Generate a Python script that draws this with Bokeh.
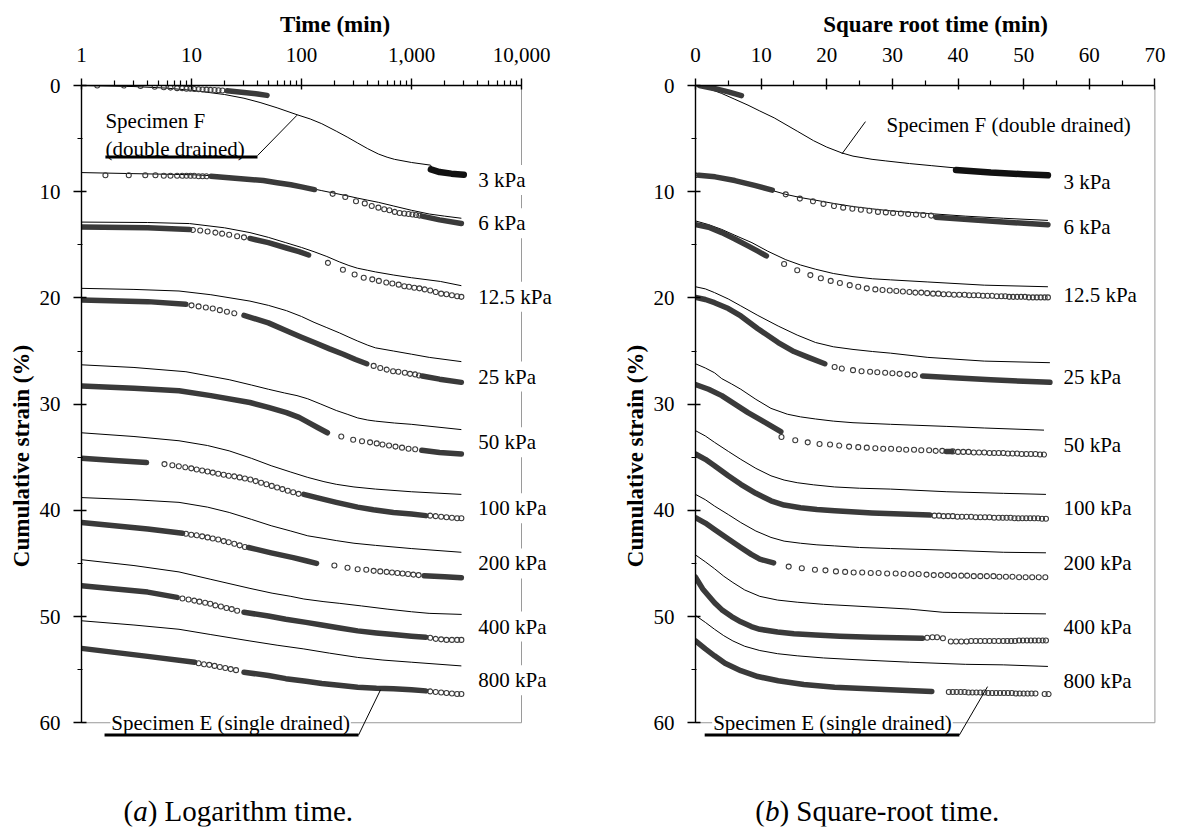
from bokeh.plotting import figure
from bokeh.layouts import row
from bokeh.models import Range1d, FixedTicker, NumeralTickFormatter, Label
from bokeh.embed import file_html
from bokeh.resources import INLINE

SERIF = "Liberation Serif"
MARK = "#3a3a3a"
BORDER = "#9a9a9a"

LOAD_LABELS = ["3 kPa", "6 kPa", "12.5 kPa", "25 kPa", "50 kPa", "100 kPa", "200 kPa", "400 kPa", "800 kPa"]
LABEL_Y_A = [8.9, 12.97, 19.9, 27.4, 33.6, 39.8, 45.0, 50.95, 56.0]
LABEL_Y_B = [9.06, 13.3, 19.7, 27.4, 33.85, 39.8, 45.0, 50.95, 56.1]

A_TICKS = [1, 10, 100, 1000, 10000]
A_MINOR = [m * 10 ** k for k in range(4) for m in range(2, 10)]
B_TICKS = [0, 10, 20, 30, 40, 50, 60, 70]
B_MINOR = [5, 15, 25, 35, 45, 55, 65]
Y_TICKS = [0, 10, 20, 30, 40, 50, 60]
Y_MINOR = [5, 15, 25, 35, 45, 55]

# ---------------- panel (a): time (min) vs cumulative strain (%) ----------------
a_f_3 = [(1, 0.0), (3, 0.1), (6, 0.25), (10, 0.45), (20, 0.85), (30, 1.2), (42, 1.6), (60, 2.1), (91, 2.75),
         (120, 3.15), (153, 3.6), (207, 4.3), (260, 4.85), (322, 5.4), (400, 5.95), (500, 6.45), (600, 6.75),
         (700, 6.95), (1000, 7.25), (1490, 7.5), (1550, 7.8)]
a_band_3 = [[(21, 0.5), (30, 0.65), (40, 0.8), (48.6, 0.93)]]
a_blk_3 = [(1500, 7.9), (1800, 8.15), (2300, 8.3), (2990, 8.4)]
a_circ_3 = [(1.39, 0.0), (2.43, 0.0), (3.44, 0.05), (4.63, 0.12), (5.6, 0.17), (6.44, 0.2), (7.4, 0.25),
            (8.24, 0.25), (9.0, 0.3), (9.78, 0.3), (10.6, 0.33), (11.6, 0.35), (12.6, 0.37), (13.7, 0.39),
            (14.9, 0.41), (16.2, 0.43), (17.6, 0.45), (19.1, 0.47)]

a_f_6 = [(1, 8.2), (3, 8.3), (10, 8.4), (20, 8.55), (30, 8.7), (60, 9.1), (100, 9.5), (153, 9.9), (250, 10.35),
         (322, 10.6), (400, 10.8), (500, 11.0), (690, 11.35), (1000, 11.75), (1450, 12.1), (2000, 12.3),
         (2840, 12.5)]
a_band_6 = [[(15, 8.55), (30, 8.8), (45, 8.95), (60, 9.15), (80, 9.35), (100, 9.55), (131, 9.8)],
            [(1250, 12.3), (1800, 12.65), (2840, 13.0)]]
a_circ_6 = [(1.65, 8.45), (2.69, 8.45), (3.8, 8.45), (4.7, 8.45), (5.6, 8.5), (6.44, 8.5), (7.4, 8.5),
            (8.24, 8.5), (9.0, 8.5), (9.78, 8.5), (10.6, 8.5), (11.6, 8.55), (12.6, 8.55), (13.7, 8.55),
            (192, 10.2), (250, 10.5), (313, 10.9), (376, 11.1), (435, 11.35), (500, 11.5), (565, 11.65),
            (630, 11.75), (705, 11.9), (780, 12.0), (860, 12.05), (940, 12.1), (1020, 12.15), (1100, 12.2),
            (1180, 12.25)]

a_f_12 = [(1, 12.86), (4, 12.9), (9.6, 13.0), (20, 13.4), (34, 13.85), (50, 14.3), (72, 14.8), (100, 15.25),
          (130, 15.65), (170, 16.1), (220, 16.6), (270, 16.95), (322, 17.2), (400, 17.4), (470, 17.55),
          (690, 17.85), (1000, 18.1), (1830, 18.45), (2840, 18.85)]
a_band_12 = [[(1, 13.33), (4, 13.4), (9.6, 13.55)],
             [(34, 14.4), (50, 14.8), (73, 15.3), (95, 15.65), (116, 15.96)]]
a_circ_12 = [(10.3, 13.6), (12, 13.65), (14, 13.75), (16.5, 13.85), (19, 13.95), (22, 14.05), (26, 14.2),
             (30, 14.3), (174, 16.7), (238, 17.35), (304, 17.8), (368, 18.1), (440, 18.25), (505, 18.4),
             (590, 18.55), (670, 18.65), (765, 18.75), (860, 18.9), (950, 18.95), (1060, 19.05),
             (1180, 19.1), (1320, 19.2), (1480, 19.3), (1660, 19.45), (1860, 19.6), (2080, 19.65),
             (2330, 19.75), (2600, 19.85), (2840, 19.9)]

a_f_25 = [(1, 19.1), (3, 19.2), (7.7, 19.35), (15, 19.7), (34, 20.3), (50, 20.7), (73, 21.2), (100, 21.75),
          (130, 22.3), (170, 22.8), (222, 23.3), (270, 23.7), (322, 24.05), (400, 24.45), (470, 24.7),
          (685, 25.0), (1000, 25.3), (1450, 25.6), (2840, 26.0)]
a_band_25 = [[(1, 20.2), (4, 20.35), (8.9, 20.6)],
             [(30, 21.65), (50, 22.35), (73, 23.1), (100, 23.7), (131, 24.2), (180, 24.8), (240, 25.3),
              (310, 25.8), (392, 26.2)],
             [(1250, 27.35), (1800, 27.65), (2840, 27.95)]]
a_circ_25 = [(10, 20.7), (11.6, 20.8), (13.5, 20.9), (15.6, 21.0), (18.1, 21.15), (21, 21.3), (24.5, 21.45),
             (453, 26.4), (520, 26.6), (595, 26.75), (680, 26.9), (760, 26.95), (870, 27.05), (970, 27.15),
             (1080, 27.2), (1170, 27.3)]

a_f_50 = [(1, 26.3), (3, 26.55), (8.9, 26.95), (22, 27.7), (35, 28.2), (50, 28.6), (70, 28.95), (91, 29.2),
          (114, 29.5), (150, 30.0), (207, 30.6), (260, 30.95), (324, 31.3), (400, 31.5), (470, 31.6),
          (700, 31.78), (995, 31.9), (2840, 32.4)]
a_band_50 = [[(1, 28.3), (3, 28.5), (7.7, 28.75), (15, 29.2), (34, 29.85), (50, 30.3), (73, 30.8),
              (95, 31.25), (114, 31.7), (140, 32.2), (172, 32.7)],
             [(1240, 34.35), (1800, 34.55), (2840, 34.7)]]
a_circ_50 = [(230, 33.05), (295, 33.35), (355, 33.5), (420, 33.6), (483, 33.7), (545, 33.8), (625, 33.9),
             (715, 34.0), (820, 34.1), (940, 34.2), (1080, 34.25)]

a_f_100 = [(1, 32.7), (3, 33.05), (7.7, 33.45), (14, 33.9), (22, 34.4), (35, 35.1), (53, 35.8), (80, 36.4),
           (114, 36.9), (160, 37.3), (207, 37.55), (300, 37.8), (470, 38.0), (995, 38.25), (2840, 38.5)]
a_band_100 = [[(1, 35.1), (2, 35.3), (3.9, 35.5)],
              [(105, 38.5), (150, 38.9), (207, 39.25), (324, 39.7), (450, 39.95), (685, 40.2), (1000, 40.35),
               (1350, 40.5)]]
a_circ_100 = [(5.68, 35.65), (6.7, 35.75), (7.67, 35.85), (8.78, 35.95), (9.95, 36.05), (11.15, 36.15),
              (12.5, 36.25), (14.0, 36.35), (15.6, 36.45), (17.5, 36.55), (19.6, 36.65), (21.8, 36.75),
              (24.5, 36.8), (27.4, 36.9), (30.6, 37.0), (34.3, 37.1), (38.3, 37.25), (42.9, 37.4),
              (48, 37.55), (53.6, 37.7), (60, 37.85), (67, 38.0), (75, 38.15), (84, 38.3), (94, 38.45),
              (1480, 40.5), (1660, 40.55), (1860, 40.6), (2080, 40.65), (2330, 40.7), (2600, 40.75),
              (2840, 40.75)]

a_f_200 = [(1, 38.8), (3, 39.0), (7.7, 39.25), (14, 39.7), (22, 40.2), (35, 40.85), (53, 41.45), (80, 41.95),
           (114, 42.4), (160, 42.65), (207, 42.85), (300, 43.1), (470, 43.3), (995, 43.6), (2840, 43.95)]
a_band_200 = [[(1, 41.15), (4, 41.75), (8.3, 42.15)],
              [(33, 43.5), (53, 44.0), (84, 44.45), (110, 44.75), (137, 45.0)],
              [(1300, 46.15), (2000, 46.25), (2840, 46.35)]]
a_circ_200 = [(8.9, 42.2), (9.95, 42.3), (11.15, 42.35), (12.5, 42.45), (14, 42.55), (15.6, 42.65),
              (17.5, 42.75), (19.6, 42.9), (21.8, 43.0), (24.5, 43.15), (27.4, 43.3), (30.6, 43.45),
              (199, 45.2), (262, 45.4), (324, 45.55), (388, 45.6), (453, 45.7), (520, 45.75), (595, 45.8),
              (665, 45.85), (745, 45.9), (830, 45.95), (930, 46.0), (1040, 46.05), (1160, 46.1)]

a_f_400 = [(1, 44.65), (3, 45.2), (7.7, 45.8), (15, 46.5), (34, 47.35), (54, 47.8), (80, 48.1), (105, 48.35),
           (160, 48.6), (223, 48.76), (350, 49.0), (600, 49.3), (1000, 49.55), (1445, 49.7), (2860, 49.8)]
a_band_400 = [[(1, 47.1), (4, 47.7), (7.4, 48.2)],
              [(30, 49.6), (50, 49.95), (72, 50.25), (110, 50.55), (153, 50.8), (230, 51.1), (324, 51.35),
               (480, 51.55), (685, 51.7), (1000, 51.85), (1350, 51.95)]]
a_circ_400 = [(8.27, 48.3), (9.4, 48.4), (10.6, 48.5), (11.8, 48.6), (13.3, 48.7), (14.8, 48.8),
              (16.5, 48.95), (18.5, 49.05), (20.8, 49.2), (23.2, 49.3), (26, 49.45), (1480, 52.0),
              (1660, 52.1), (1860, 52.15), (2080, 52.2), (2330, 52.2), (2600, 52.2), (2840, 52.2)]

a_f_800 = [(1, 50.4), (3, 50.8), (7.7, 51.2), (15, 51.7), (34, 52.3), (60, 52.7), (105, 53.05), (180, 53.45),
           (324, 53.85), (550, 54.1), (995, 54.3), (2840, 54.65)]
a_band_800 = [[(1, 53.0), (4, 53.75), (10.7, 54.3)],
              [(30, 55.25), (50, 55.55), (72, 55.85), (110, 56.1), (153, 56.3), (230, 56.5), (324, 56.65),
               (480, 56.75), (685, 56.8), (1000, 56.9), (1350, 57.0)]]
a_circ_800 = [(11.6, 54.4), (13, 54.5), (14.5, 54.55), (16.2, 54.65), (18.1, 54.75), (20.3, 54.85),
              (22.7, 54.95), (25.4, 55.05), (1480, 57.05), (1660, 57.1), (1860, 57.15), (2080, 57.2),
              (2330, 57.25), (2600, 57.3), (2840, 57.3)]

# ---------------- panel (b): square-root time vs cumulative strain (%) ----------------
b_f_3 = [(0, 0.0), (2, 0.3), (4, 0.75), (6, 1.3), (8, 1.85), (9.8, 2.4), (12, 3.05), (15.5, 4.3), (18, 5.2),
         (20, 5.8), (22.3, 6.35), (24, 6.65), (26.9, 6.95), (29, 7.1), (32.6, 7.35), (36, 7.55), (39.4, 7.75)]
b_band_3 = [[(0.6, 0.0), (3, 0.3), (5, 0.6), (7.0, 0.95)]]
b_blk_3 = [(39.7, 7.95), (45, 8.2), (50, 8.35), (53.7, 8.45)]
b_circ_3 = []

b_f_6 = [(0, 8.28), (2, 8.45), (4, 8.7), (5.7, 9.0), (8, 9.4), (10, 9.65), (11.5, 9.85), (13.75, 10.25),
         (16, 10.55), (18.3, 10.8), (21, 11.1), (24, 11.4), (27, 11.62), (29.7, 11.8), (32.5, 11.93),
         (35.4, 12.05), (41.1, 12.3), (46.9, 12.5), (53.7, 12.7)]
b_band_6 = [[(0.5, 8.45), (3, 8.6), (6, 8.95), (9, 9.4), (11.7, 9.85)],
            [(36.6, 12.4), (42, 12.65), (48, 12.9), (53.7, 13.1)]]
b_circ_6 = [(0, 8.45), (13.75, 10.25), (15.9, 10.65), (17.9, 10.9), (19.5, 11.15), (21.1, 11.35),
            (22.5, 11.5), (23.9, 11.6), (25.2, 11.7), (26.5, 11.8), (27.8, 11.9), (29, 11.95), (30.1, 12.0),
            (31.3, 12.05), (32.4, 12.1), (33.6, 12.15), (34.7, 12.2), (35.9, 12.25)]

b_f_12 = [(0, 12.75), (2, 13.1), (4, 13.55), (6, 14.1), (8.6, 14.8), (11, 15.6), (13.75, 16.4), (16, 16.9),
          (18.3, 17.3), (21, 17.7), (24, 18.0), (27, 18.2), (29.7, 18.3), (35.4, 18.5), (44, 18.8),
          (53.7, 18.95)]
b_band_12 = [[(0, 13.1), (2, 13.35), (4, 13.85), (6, 14.45), (8, 15.1), (9.5, 15.6), (10.8, 16.05)]]
b_circ_12 = [(13.5, 16.8), (15.5, 17.4), (17.5, 17.85), (19.1, 18.15), (20.6, 18.4), (22.0, 18.6),
             (23.5, 18.8), (24.8, 18.95), (26.1, 19.1), (27.4, 19.2), (28.5, 19.25), (29.6, 19.3),
             (30.6, 19.35), (31.6, 19.4), (32.6, 19.45), (33.5, 19.5), (34.4, 19.5), (35.3, 19.55),
             (36.2, 19.6), (37.0, 19.6), (37.8, 19.65), (38.6, 19.65), (39.4, 19.7), (40.2, 19.7),
             (41.0, 19.7), (41.7, 19.75), (42.4, 19.75), (43.1, 19.75), (43.8, 19.8), (44.5, 19.8),
             (45.2, 19.8), (45.9, 19.85), (46.6, 19.85), (47.2, 19.85), (47.8, 19.9), (48.4, 19.9),
             (49.0, 19.9), (49.6, 19.9), (50.2, 19.9), (50.8, 19.95), (51.4, 19.95), (52.0, 19.95),
             (52.6, 19.95), (53.2, 19.95), (53.7, 19.95)]

b_f_25 = [(0, 18.95), (1.5, 19.15), (2.9, 19.5), (5, 20.1), (6.9, 20.75), (9.5, 21.65), (12.6, 22.65),
          (15.5, 23.5), (18.3, 24.2), (21, 24.6), (24, 24.85), (27, 25.05), (29.7, 25.2), (35.4, 25.6),
          (44, 25.95), (54, 26.1)]
b_band_25 = [[(0, 19.95), (1.5, 20.15), (2.9, 20.45), (5, 21.0), (6.9, 21.7), (9.5, 22.9), (12.6, 24.2),
              (15, 25.05), (17.2, 25.6), (19.7, 26.2)],
             [(34.6, 27.35), (40, 27.55), (45, 27.7), (50, 27.85), (54, 27.95)]]
b_circ_25 = [(21.2, 26.5), (22.3, 26.65), (24, 26.8), (25.3, 26.9), (26.6, 26.95), (27.7, 27.0),
             (28.9, 27.05), (30.0, 27.1), (31.1, 27.15), (32.3, 27.2), (33.4, 27.25)]

b_f_50 = [(0, 26.2), (1.5, 26.6), (2.9, 27.05), (4, 27.6), (5.5, 28.1), (6.9, 28.6), (9.2, 29.55),
          (11.5, 30.4), (14, 30.95), (16, 31.2), (18.3, 31.4), (21, 31.6), (24, 31.75), (29.7, 31.9),
          (38.3, 32.1), (44, 32.25), (53.1, 32.45)]
b_band_50 = [[(0, 28.15), (2, 28.6), (4, 29.2), (6, 30.0), (8, 30.8), (10, 31.5), (11.5, 32.05), (13.0, 32.6)],
             [(38.2, 34.45), (39.0, 34.45)]]
b_circ_50 = [(13.1, 33.1), (15.2, 33.4), (17.1, 33.6), (18.9, 33.75), (20.5, 33.8), (21.9, 33.9),
             (23.4, 34.0), (24.8, 34.05), (26.1, 34.1), (27.4, 34.15), (28.6, 34.2), (29.8, 34.2),
             (31, 34.25), (32.1, 34.3), (33.3, 34.3), (34.4, 34.35), (35.6, 34.35), (36.6, 34.4),
             (37.6, 34.4), (39.2, 34.45), (40.0, 34.5), (40.8, 34.5), (41.6, 34.5), (42.4, 34.55),
             (43.2, 34.55), (44.0, 34.55), (44.8, 34.6), (45.5, 34.6), (46.2, 34.6), (46.9, 34.6),
             (47.6, 34.65), (48.3, 34.65), (49.0, 34.65), (49.7, 34.7), (50.4, 34.7), (51.1, 34.7),
             (51.8, 34.7), (52.5, 34.75), (53.1, 34.75)]

b_f_100 = [(0, 32.5), (1.5, 33.0), (2.9, 33.6), (5, 34.45), (6.9, 35.2), (9.2, 36.05), (11.5, 36.75),
           (13.5, 37.15), (15.5, 37.4), (18, 37.6), (21.2, 37.8), (25, 37.92), (29.7, 38.0), (38.3, 38.25),
           (46.9, 38.4), (53.4, 38.5)]
b_band_100 = [[(0, 34.7), (1.5, 35.2), (2.9, 35.8), (5, 36.75), (6.9, 37.55), (9.2, 38.4), (11.5, 39.1),
               (13.5, 39.5), (16, 39.75), (18.5, 39.92), (21.2, 40.05), (26.9, 40.25), (35.7, 40.45)]]
b_circ_100 = [(36.4, 40.5), (37.1, 40.5), (37.8, 40.55), (38.5, 40.55), (39.2, 40.55), (39.9, 40.6),
              (40.6, 40.6), (41.3, 40.6), (42.0, 40.6), (42.7, 40.65), (43.4, 40.65), (44.1, 40.65),
              (44.8, 40.65), (45.5, 40.7), (46.2, 40.7), (46.8, 40.7), (47.4, 40.7), (48.0, 40.7),
              (48.6, 40.75), (49.2, 40.75), (49.8, 40.75), (50.4, 40.75), (51.0, 40.75), (51.6, 40.75),
              (52.2, 40.75), (52.8, 40.8), (53.4, 40.8)]

b_f_200 = [(0, 38.5), (1.5, 39.0), (2.9, 39.6), (5, 40.4), (6.9, 41.15), (9.2, 41.95), (11.5, 42.55),
           (13.5, 42.9), (16, 43.1), (18.5, 43.25), (21.2, 43.35), (25, 43.5), (29.7, 43.6), (38.3, 43.75),
           (46.9, 43.95), (53.4, 44.0)]
b_band_200 = [[(0, 40.7), (1.5, 41.2), (2.9, 41.8), (5, 42.7), (6.9, 43.5), (8.5, 44.15), (9.8, 44.6),
               (11.9, 44.95)]]
b_circ_200 = [(14.2, 45.3), (16.2, 45.45), (18.2, 45.6), (19.8, 45.65), (21.4, 45.75), (22.8, 45.8),
              (24.1, 45.85), (25.4, 45.85), (26.7, 45.9), (27.9, 45.9), (29.2, 45.95), (30.5, 45.95),
              (31.7, 46.0), (32.9, 46.0), (34.0, 46.0), (35.2, 46.05), (36.3, 46.1), (37.4, 46.1),
              (38.4, 46.1), (39.4, 46.15), (40.5, 46.15), (41.4, 46.15), (42.4, 46.2), (43.4, 46.2),
              (44.4, 46.2), (45.4, 46.2), (46.3, 46.25), (47.3, 46.25), (48.3, 46.25), (49.3, 46.3),
              (50.3, 46.3), (51.3, 46.3), (52.3, 46.3), (53.3, 46.3)]

b_f_400 = [(0, 44.2), (1.5, 44.85), (2.9, 45.5), (4.3, 46.2), (5.7, 46.8), (7.5, 47.5), (9.8, 48.1),
           (12.5, 48.45), (15.5, 48.65), (19.5, 48.85), (24, 49.0), (32.6, 49.3), (37.7, 49.6), (46.9, 49.7),
           (53.4, 49.75)]
b_band_400 = [[(0, 46.3), (1.1, 47.4), (2.9, 48.7), (4, 49.35), (5.5, 50.0), (6.9, 50.5), (8.5, 50.95),
               (9.8, 51.2), (12.5, 51.45), (15, 51.62), (18.3, 51.75), (22, 51.85), (26.9, 51.95),
               (34.6, 52.05)]]
b_circ_400 = [(35.3, 52.0), (36.1, 51.95), (36.8, 51.95), (37.7, 52.05), (38.9, 52.35), (39.7, 52.35),
              (40.5, 52.35), (41.3, 52.35), (42.0, 52.3), (42.7, 52.3), (43.4, 52.3), (44.1, 52.3),
              (44.8, 52.3), (45.5, 52.3), (46.2, 52.3), (46.9, 52.3), (47.5, 52.3), (48.1, 52.3),
              (48.7, 52.3), (49.3, 52.25), (49.9, 52.25), (50.5, 52.25), (51.1, 52.25), (51.7, 52.25),
              (52.3, 52.25), (52.9, 52.25), (53.4, 52.25)]

b_f_800 = [(0, 49.9), (1.5, 50.55), (2.9, 51.2), (4.3, 51.8), (5.7, 52.3), (7.5, 52.8), (9.8, 53.2),
           (12.5, 53.5), (15.5, 53.7), (19.5, 53.9), (24, 54.05), (32.6, 54.3), (41.1, 54.5), (46.9, 54.55),
           (53.7, 54.7)]
b_band_800 = [[(0, 52.3), (1.5, 53.05), (2.9, 53.7), (4.5, 54.4), (6.9, 55.1), (9.5, 55.65), (12.6, 56.05),
               (16.5, 56.4), (21.2, 56.65), (29.7, 56.9), (36, 57.05)]]
b_circ_800 = [(38.6, 57.1), (39.2, 57.1), (39.8, 57.1), (40.4, 57.1), (41.0, 57.1), (41.6, 57.15),
              (42.2, 57.15), (42.8, 57.15), (43.4, 57.15), (44.0, 57.15), (44.6, 57.2), (45.2, 57.2),
              (45.8, 57.2), (46.4, 57.2), (47.0, 57.2), (47.6, 57.2), (48.2, 57.2), (48.8, 57.25),
              (49.4, 57.25), (50.0, 57.25), (50.6, 57.25), (51.2, 57.25), (51.8, 57.25), (53.2, 57.3),
              (53.8, 57.3)]

A_F = [a_f_3, a_f_6, a_f_12, a_f_25, a_f_50, a_f_100, a_f_200, a_f_400, a_f_800]
A_BANDS = [a_band_3, a_band_6, a_band_12, a_band_25, a_band_50, a_band_100, a_band_200, a_band_400, a_band_800]
A_CIRCS = [a_circ_3, a_circ_6, a_circ_12, a_circ_25, a_circ_50, a_circ_100, a_circ_200, a_circ_400, a_circ_800]
B_F = [b_f_3, b_f_6, b_f_12, b_f_25, b_f_50, b_f_100, b_f_200, b_f_400, b_f_800]
B_BANDS = [b_band_3, b_band_6, b_band_12, b_band_25, b_band_50, b_band_100, b_band_200, b_band_400, b_band_800]
B_CIRCS = [b_circ_3, b_circ_6, b_circ_12, b_circ_25, b_circ_50, b_circ_100, b_circ_200, b_circ_400, b_circ_800]


def X(pts):
    return [q[0] for q in pts]


def Y(pts):
    return [q[1] for q in pts]


def style_axes(p, xt, xm, xb, title):
    xa = p.xaxis[0]
    ya = p.yaxis[0]
    xa.ticker = FixedTicker(ticks=xt, minor_ticks=xm)
    xa.bounds = xb
    ya.ticker = FixedTicker(ticks=Y_TICKS, minor_ticks=Y_MINOR)
    ya.bounds = (0, 60)
    ya.axis_label = "Cumulative strain (%)"
    for ax in (xa, ya):
        ax.axis_line_color = "black"
        ax.axis_line_width = 1.4
        ax.major_tick_line_color = "black"
        ax.major_tick_line_width = 1.4
        ax.minor_tick_line_color = "black"
        ax.minor_tick_line_width = 1.2
        ax.major_label_text_font = SERIF
        ax.major_label_text_font_size = "21px"
        ax.major_label_text_color = "black"
        ax.axis_label_text_font = SERIF
        ax.axis_label_text_font_size = "23px"
        ax.axis_label_text_font_style = "bold"
        ax.axis_label_text_color = "black"
    xa.major_tick_out = 7
    xa.major_tick_in = 4
    xa.minor_tick_out = 5
    xa.minor_tick_in = 0
    xa.major_label_standoff = 17
    ya.major_tick_out = 8
    ya.major_tick_in = 5
    ya.minor_tick_out = 4
    ya.minor_tick_in = 1
    ya.major_label_standoff = 13
    ya.axis_label_standoff = 3
    p.title.text = title
    p.title.align = "center"
    p.title.text_font = SERIF
    p.title.text_font_size = "23px"
    p.title.text_font_style = "bold"
    p.title.text_color = "black"
    p.title.standoff = 16
    p.grid.visible = False
    p.outline_line_color = None
    p.background_fill_color = "white"
    p.border_fill_color = "white"


def draw_data(p, F, BANDS, CIRCS, blk):
    for pts in F:
        p.line(X(pts), Y(pts), line_color="black", line_width=1)
    for segs in BANDS:
        for seg in segs:
            p.line(X(seg), Y(seg), line_color=MARK, line_width=5.5, line_cap="round", line_join="round")
    p.line(X(blk), Y(blk), line_color="#111111", line_width=6.5, line_cap="round", line_join="round")
    for pts in CIRCS:
        if pts:
            p.scatter(X(pts), Y(pts), marker="circle", size=5, fill_color=None,
                      line_color=MARK, line_width=1.1)


def add_label(p, x, y, text, size="21px", bg=None, align="left", style="normal", x_offset=0, pad=0):
    kw = dict(x=x, y=y, text=text, text_font=SERIF, text_font_size=size, text_color="black",
              text_align=align, text_baseline="middle", text_font_style=style, x_offset=x_offset)
    if bg:
        kw.update(background_fill_color=bg, padding=pad)
    p.add_layout(Label(**kw))


# ---------------- figure (a) ----------------
pa = figure(width=590, height=828, x_axis_type="log", x_axis_location="above",
            x_range=Range1d(1, 10 ** (507 / 110)), y_range=Range1d(69.77, 0),
            output_backend="svg", toolbar_location=None, title_location="above",
            min_border_left=81, min_border_right=2, min_border_top=85, min_border_bottom=2)
style_axes(pa, A_TICKS, A_MINOR, (1, 10000), "Time (min)")
pa.xaxis[0].formatter = NumeralTickFormatter(format="0,0")
pa.line([10000, 10000], [0, 60], line_color=BORDER, line_width=1)
pa.line([1, 10000], [60, 60], line_color=BORDER, line_width=1)
draw_data(pa, A_F, A_BANDS, A_CIRCS, a_blk_3)
for lab, yy in zip(LOAD_LABELS, LABEL_Y_A):
    add_label(pa, 3800, yy, lab, bg="white", pad=3)
add_label(pa, 1.65, 3.34, "Specimen F")
add_label(pa, 1.65, 5.98, "(double drained)")
pa.line([1.65, 39.8], [6.73, 6.73], line_color="black", line_width=3)
pa.line([39.8, 91], [6.6, 2.8], line_color="black", line_width=1)
add_label(pa, 1.83, 60.0, "Specimen E (single drained)", bg="white", pad=1)
pa.line([1.62, 330], [61.16, 61.16], line_color="black", line_width=3, level="overlay")
pa.line([330, 523], [61.16, 56.9], line_color="black", line_width=1, level="overlay")
add_label(pa, 1, 68.27, "(", size="29px", x_offset=42)
add_label(pa, 1, 68.27, "a", size="29px", x_offset=51.7, style="italic")
add_label(pa, 1, 68.27, ") Logarithm time.", size="29px", x_offset=66.2)

# ---------------- figure (b) ----------------
pb = figure(width=587, height=828, x_axis_location="above",
            x_range=Range1d(0, 480 / 6.563), y_range=Range1d(69.77, 0),
            output_backend="svg", toolbar_location=None, title_location="above",
            min_border_left=105, min_border_right=2, min_border_top=85, min_border_bottom=2)
style_axes(pb, B_TICKS, B_MINOR, (0, 70), "Square root time (min)")
pb.line([70, 70], [0, 60], line_color=BORDER, line_width=1)
pb.line([0, 70], [60, 60], line_color=BORDER, line_width=1)
draw_data(pb, B_F, B_BANDS, B_CIRCS, b_blk_3)
for lab, yy in zip(LOAD_LABELS, LABEL_Y_B):
    add_label(pb, 55.6, yy, lab, bg="white", pad=3)
add_label(pb, 29.1, 3.72, "Specimen F (double drained)")
pb.line([25.9, 22.3], [3.4, 6.45], line_color="black", line_width=1)
add_label(pb, 2.54, 60.0, "Specimen E (single drained)", bg="white", pad=1)
pb.line([1.4, 40.2], [61.16, 61.16], line_color="black", line_width=3, level="overlay")
pb.line([40.2, 44.5], [61.16, 56.6], line_color="black", line_width=1, level="overlay")
add_label(pb, 0, 68.27, "(", size="29px", x_offset=59.7)
add_label(pb, 0, 68.27, "b", size="29px", x_offset=69.4, style="italic")
add_label(pb, 0, 68.27, ") Square-root time.", size="29px", x_offset=83.9)

layout = row(pa, pb)
open("out.html", "w").write(file_html(layout, INLINE))
